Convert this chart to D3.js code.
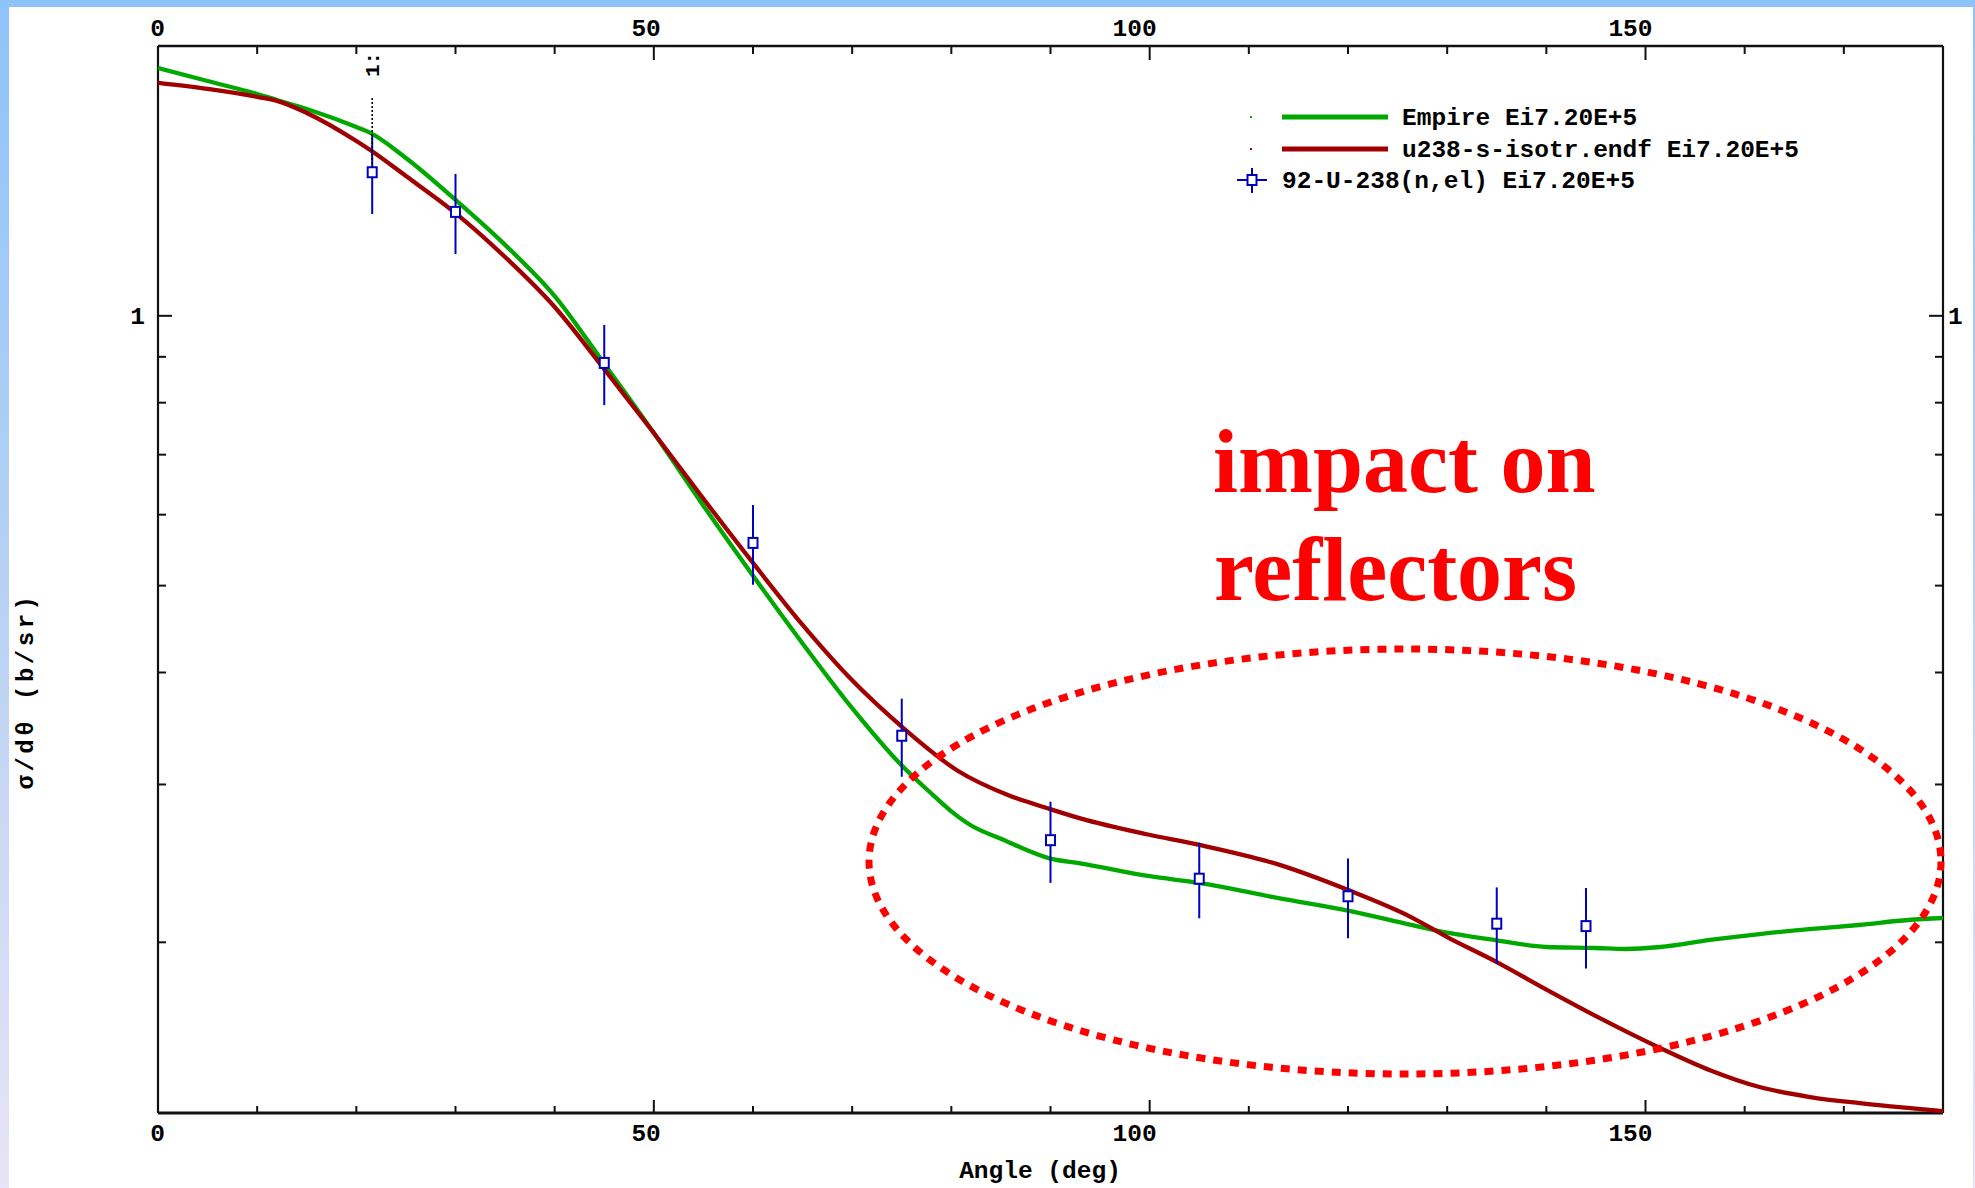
<!DOCTYPE html>
<html>
<head>
<meta charset="utf-8">
<script src="https://cdn.jsdelivr.net/npm/d3@7"></script>
<style>
  html, body { margin: 0; padding: 0; background: #ffffff; }
  svg { display: block; }
</style>
</head>
<body>
<svg id="chart" width="1975" height="1188"></svg>
<script>
// ---------------- DATA ----------------
const angleEmpire = [0, 5, 10, 12, 15, 20, 21.4, 25, 30, 35, 40, 45, 50, 55, 60, 65, 70, 75,
  78, 80, 82, 85, 90, 93, 100, 105, 113, 120, 126.5, 130, 135, 140, 145, 148, 151.5, 156.5, 161.5, 166.5, 171.5, 176.5, 180];
const valueEmpire = [1.890, 1.828, 1.768, 1.741, 1.701, 1.624, 1.600, 1.500, 1.347, 1.200, 1.052, 0.884, 0.740, 0.614, 0.513, 0.431, 0.365, 0.315,
  0.293, 0.280, 0.270, 0.261, 0.248, 0.245, 0.237, 0.233, 0.224, 0.217, 0.209, 0.205, 0.201, 0.1976, 0.1971, 0.1966, 0.1976, 0.2012, 0.2043, 0.2069, 0.2091, 0.2118, 0.2129];

const angleEndf = [0, 5, 10, 12, 15, 20, 21.4, 25, 30, 35, 40, 45, 50, 55, 60, 65, 70, 75,
  80.6, 85.7, 89.8, 93, 99.7, 104.9, 113.1, 119.9, 126.5, 130, 135, 140.1, 145.4, 151.5, 156.5, 161.5, 166.6, 171.6, 176.7, 180];
const valueEndf = [1.819, 1.791, 1.755, 1.737, 1.684, 1.567, 1.531, 1.432, 1.302, 1.163, 1.023, 0.872, 0.740, 0.625, 0.530, 0.452, 0.392, 0.348,
  0.311, 0.292, 0.282, 0.275, 0.264, 0.257, 0.244, 0.229, 0.213, 0.2027, 0.1901, 0.1769, 0.1646, 0.1524, 0.1440, 0.1379, 0.1344, 0.1323, 0.1306, 0.1296];

const angleExp = [21.6, 30, 45, 60, 75, 90, 105, 120, 135, 144];
const valueExp = [1.446, 1.306, 0.886, 0.558, 0.340, 0.260, 0.2355, 0.2251, 0.2098, 0.2085];
const errorExp = [0.147, 0.134, 0.091, 0.057, 0.034, 0.027, 0.0228, 0.023, 0.0205, 0.0215];

const xMajorTicks = [0, 50, 100, 150];
const xTickLabels = ["0", "50", "100", "150"];
const xMinorTicks = [10, 20, 30, 40, 60, 70, 80, 90, 110, 120, 130, 140, 160, 170];
const yMajorTicks = [1];
const yTickLabels = ["1"];
const yMinorTicks = [0.2, 0.3, 0.4, 0.5, 0.6, 0.7, 0.8, 0.9];

const legendLabels = ["Empire Ei7.20E+5", "u238-s-isotr.endf Ei7.20E+5", "92-U-238(n,el) Ei7.20E+5"];
const xTitle = "Angle (deg)";
const yTitle = "σ/dθ (b/sr)";
const annotationLines = ["impact on", "reflectors"];
const pointLabel = "1:";

// ---------------- LAYOUT ----------------
const W = 1975, H = 1188;
const L = 158, R = 1943, T = 46, B = 1113;
const COL_EMP = "#00a800", COL_ENDF = "#a00000", COL_EXP = "#0000c0";
const MONO = "'Liberation Mono', 'DejaVu Sans Mono', monospace";

const svg = d3.select("#chart");

// background frame bands
const defs = svg.append("defs");
const grad = defs.append("linearGradient").attr("id", "leftband").attr("x1", 0).attr("y1", 0).attr("x2", 0).attr("y2", 1);
grad.append("stop").attr("offset", "0%").attr("stop-color", "#8ec3f9");
grad.append("stop").attr("offset", "55%").attr("stop-color", "#bcd3f3");
grad.append("stop").attr("offset", "100%").attr("stop-color", "#e8e3f7");
svg.append("rect").attr("x", 0).attr("y", 0).attr("width", W).attr("height", H).attr("fill", "#ffffff");
svg.append("rect").attr("x", 0).attr("y", 0).attr("width", 9).attr("height", H).attr("fill", "url(#leftband)");
svg.append("rect").attr("x", W - 2).attr("y", 0).attr("width", 2).attr("height", H).attr("fill", "url(#leftband)");
svg.append("rect").attr("x", 0).attr("y", 0).attr("width", W).attr("height", 7).attr("fill", "#8ec3f9");

defs.append("clipPath").attr("id", "plotclip").append("rect")
  .attr("x", L).attr("y", T).attr("width", R - L).attr("height", B - T);

const x = d3.scaleLinear().domain([0, 180]).range([L, R]);
const y = d3.scaleLog().domain([0.129, 2.0]).range([B, T]);

// ---------------- AXES ----------------
const axes = svg.append("g").attr("stroke", "#111").attr("fill", "none");
xMinorTicks.forEach(t => {
  axes.append("line").attr("x1", x(t)).attr("x2", x(t)).attr("y1", T).attr("y2", T + 8).attr("stroke-width", 2);
  axes.append("line").attr("x1", x(t)).attr("x2", x(t)).attr("y1", B).attr("y2", B - 7).attr("stroke-width", 2);
});
xMajorTicks.forEach(t => {
  axes.append("line").attr("x1", x(t)).attr("x2", x(t)).attr("y1", T).attr("y2", T + 14).attr("stroke-width", 2);
  axes.append("line").attr("x1", x(t)).attr("x2", x(t)).attr("y1", B).attr("y2", B - 13).attr("stroke-width", 2);
});
yMinorTicks.forEach(t => {
  axes.append("line").attr("x1", L).attr("x2", L + 8).attr("y1", y(t)).attr("y2", y(t)).attr("stroke-width", 2);
  axes.append("line").attr("x1", R).attr("x2", R - 8).attr("y1", y(t)).attr("y2", y(t)).attr("stroke-width", 2);
});
yMajorTicks.forEach(t => {
  axes.append("line").attr("x1", L).attr("x2", L + 14).attr("y1", y(t)).attr("y2", y(t)).attr("stroke-width", 2);
  axes.append("line").attr("x1", R).attr("x2", R - 14).attr("y1", y(t)).attr("y2", y(t)).attr("stroke-width", 2);
});
axes.append("line").attr("x1", L).attr("x2", R).attr("y1", T).attr("y2", T).attr("stroke-width", 2.3);
axes.append("line").attr("x1", L).attr("x2", R).attr("y1", B).attr("y2", B).attr("stroke-width", 2.8);
axes.append("line").attr("x1", L).attr("x2", L).attr("y1", T).attr("y2", B).attr("stroke-width", 2.2);
axes.append("line").attr("x1", R).attr("x2", R).attr("y1", T).attr("y2", B).attr("stroke-width", 2.2);

// tick labels
const lab = svg.append("g").attr("font-family", MONO).attr("font-weight", "bold").attr("font-size", 24.5).attr("fill", "#000");
xMajorTicks.forEach((t, i) => {
  lab.append("text").attr("x", x(t) + 7).attr("y", 36).attr("text-anchor", "end").text(xTickLabels[i]);
  lab.append("text").attr("x", x(t) + 7).attr("y", 1141).attr("text-anchor", "end").text(xTickLabels[i]);
});
yMajorTicks.forEach((t, i) => {
  lab.append("text").attr("x", 145).attr("y", y(t) + 8).attr("text-anchor", "end").text(yTickLabels[i]);
  lab.append("text").attr("x", 1948).attr("y", y(t) + 8).attr("text-anchor", "start").text(yTickLabels[i]);
});
lab.append("text").attr("x", 1040).attr("y", 1178).attr("text-anchor", "middle").text(xTitle);
lab.append("text").attr("transform", "translate(33,691) rotate(-90)").attr("text-anchor", "middle")
  .attr("letter-spacing", 3.5).attr("font-size", 24).text(yTitle);

// ---------------- CURVES ----------------
const plot = svg.append("g").attr("clip-path", "url(#plotclip)");
const line = d3.line().x(d => x(d[0])).y(d => y(d[1])).curve(d3.curveMonotoneX);
const empData = angleEmpire.map((a, i) => [a, valueEmpire[i]]);
const endfData = angleEndf.map((a, i) => [a, valueEndf[i]]);
plot.append("path").datum(empData).attr("d", line).attr("fill", "none").attr("stroke", COL_EMP).attr("stroke-width", 4.3);
plot.append("path").datum(endfData).attr("d", line).attr("fill", "none").attr("stroke", COL_ENDF).attr("stroke-width", 4.3);

// ---------------- EXPERIMENTAL POINTS ----------------
const expG = svg.append("g");
angleExp.forEach((a, i) => {
  const v = valueExp[i], e = errorExp[i];
  expG.append("line").attr("x1", x(a)).attr("x2", x(a)).attr("y1", y(v + e)).attr("y2", y(v - e))
    .attr("stroke", COL_EXP).attr("stroke-width", 2);
});
const p0x = x(angleExp[0]);
expG.append("line").attr("x1", p0x).attr("x2", p0x).attr("y1", 98).attr("y2", y(valueExp[0]) - 5)
  .attr("stroke", "#000").attr("stroke-width", 1.6).attr("stroke-dasharray", "2,2");
expG.append("text").attr("transform", `translate(${p0x + 7},77) rotate(-90)`)
  .attr("font-family", MONO).attr("font-weight", "bold").attr("font-size", 21).attr("fill", "#000").text(pointLabel);
angleExp.forEach((a, i) => {
  expG.append("rect").attr("x", x(a) - 4.5).attr("y", y(valueExp[i]) - 5).attr("width", 9).attr("height", 10)
    .attr("fill", "#fff").attr("stroke", COL_EXP).attr("stroke-width", 2);
});

// ---------------- LEGEND ----------------
const leg = svg.append("g").attr("font-family", MONO).attr("font-weight", "bold").attr("font-size", 24.5).attr("fill", "#000");
const legY = [117, 149, 180];
const legCols = [COL_EMP, COL_ENDF];
[0, 1].forEach(i => {
  leg.append("rect").attr("x", 1250).attr("y", legY[i] - 1).attr("width", 2).attr("height", 2).attr("fill", legCols[i]);
  leg.append("line").attr("x1", 1282).attr("x2", 1388).attr("y1", legY[i]).attr("y2", legY[i])
    .attr("stroke", legCols[i]).attr("stroke-width", 5);
});
leg.append("line").attr("x1", 1237).attr("x2", 1267).attr("y1", legY[2]).attr("y2", legY[2]).attr("stroke", COL_EXP).attr("stroke-width", 2);
leg.append("line").attr("x1", 1252).attr("x2", 1252).attr("y1", legY[2] - 12).attr("y2", legY[2] + 13).attr("stroke", COL_EXP).attr("stroke-width", 2);
leg.append("rect").attr("x", 1247.5).attr("y", legY[2] - 5).attr("width", 9).attr("height", 10)
  .attr("fill", "#fff").attr("stroke", COL_EXP).attr("stroke-width", 2);
leg.append("text").attr("x", 1402).attr("y", legY[0] + 8).text(legendLabels[0]);
leg.append("text").attr("x", 1402).attr("y", legY[1] + 8).text(legendLabels[1]);
leg.append("text").attr("x", 1282).attr("y", legY[2] + 8).text(legendLabels[2]);

// ---------------- ANNOTATION ----------------
svg.append("ellipse").attr("cx", 1405).attr("cy", 861.5).attr("rx", 536).attr("ry", 212.5)
  .attr("fill", "none").attr("stroke", "#ff0000").attr("stroke-width", 7).attr("stroke-dasharray", "9,8");
const ann = svg.append("g").attr("font-family", "'Liberation Serif', 'Times New Roman', serif")
  .attr("font-weight", "bold").attr("font-size", 90).attr("fill", "#ff0000");
ann.append("text").attr("x", 1213).attr("y", 492).text(annotationLines[0]);
ann.append("text").attr("x", 1214).attr("y", 600).text(annotationLines[1]);
</script>
</body>
</html>
